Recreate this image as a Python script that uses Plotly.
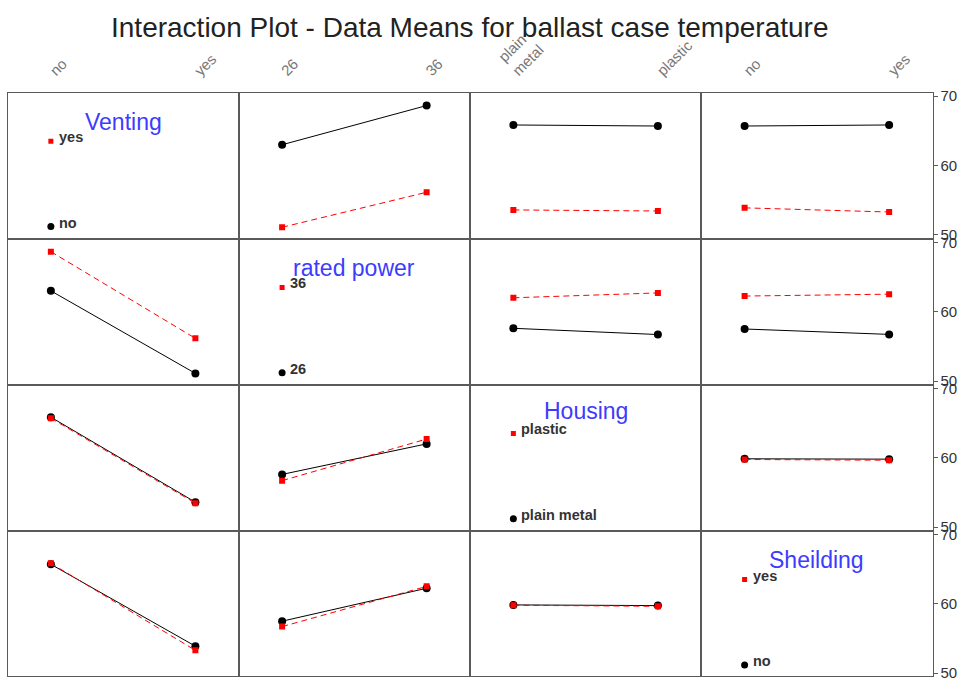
import plotly.graph_objects as go

# ---------------- data ----------------
FACTORS = ["Venting", "rated power", "Housing", "Sheilding"]
LEVELS = [["no", "yes"], ["26", "36"], ["plain metal", "plastic"], ["no", "yes"]]
TICK_TEXT = [["no", "yes"], ["26", "36"], ["plain<br>metal", "plastic"], ["no", "yes"]]
Y_TICKS = [50, 60, 70]

# cell means: rows = levels of first factor, cols = levels of second factor
MEANS_VENT_POWER = [[63.0, 68.65], [51.1, 56.15]]
MEANS_VENT_HOUSING = [[65.85, 65.7], [53.6, 53.45]]
MEANS_VENT_SHIELD = [[65.7, 65.85], [53.9, 53.3]]
MEANS_POWER_HOUSING = [[57.6, 56.7], [62.0, 62.7]]
MEANS_POWER_SHIELD = [[57.5, 56.72], [62.25, 62.52]]
MEANS_HOUSING_SHIELD = [[59.85, 59.8], [59.75, 59.65]]

# legend key heights (y value) in the diagonal panels: [low level, high level]
LEGEND_Y = [51.2, 63.5]
TITLE_POS = [0.195, 0.195, 0.175, 0.195]

PAIRS = {
    (0, 1): MEANS_VENT_POWER,
    (0, 2): MEANS_VENT_HOUSING,
    (0, 3): MEANS_VENT_SHIELD,
    (1, 2): MEANS_POWER_HOUSING,
    (1, 3): MEANS_POWER_SHIELD,
    (2, 3): MEANS_HOUSING_SHIELD,
}


def table(i, j):
    if (i, j) in PAIRS:
        return PAIRS[(i, j)]
    t = PAIRS[(j, i)]
    return [[t[0][0], t[1][0]], [t[0][1], t[1][1]]]


# ---------------- geometry ----------------
W, H = 961, 681
LEFT, RIGHT = 7.5, 932.5
TOP, ROWH = 88.5, 148.5
PX_PER_UNIT = 7.05
Y_TOP = 70.45
N = 4
colw = (RIGHT - LEFT) / N

FONT = "Arial, Liberation Sans, sans-serif"
LINE_COL = "#5a5a5a"
STYLE = [
    dict(color="black", symbol="circle", size=8, dash="solid"),
    dict(color="#ff0000", symbol="square", size=6, dash="6px,4px"),
]

fig = go.Figure()
layout = dict(
    width=W, height=H, margin=dict(l=0, r=0, t=0, b=0),
    paper_bgcolor="white", plot_bgcolor="white", showlegend=False,
    font=dict(family=FONT, color="#333"),
)
annotations = []

for r in range(N):
    for c in range(N):
        n = r * N + c + 1
        xa = "x" if n == 1 else f"x{n}"
        ya = "y" if n == 1 else f"y{n}"
        xkey = "xaxis" if n == 1 else f"xaxis{n}"
        ykey = "yaxis" if n == 1 else f"yaxis{n}"
        x0 = (LEFT + c * colw) / W
        x1 = (LEFT + (c + 1) * colw) / W
        top_px = TOP + r * ROWH
        bot_px = min(top_px + ROWH, H)
        y1 = 1 - top_px / H
        y0 = 1 - bot_px / H
        yr = [Y_TOP - (bot_px - top_px) / PX_PER_UNIT, Y_TOP]

        layout[xkey] = dict(
            domain=[x0, x1], range=[0.7, 2.3], anchor=ya,
            showgrid=False, zeroline=False, showline=True, mirror=True,
            linecolor=LINE_COL, linewidth=1, fixedrange=True,
            tickvals=[1, 2], ticktext=TICK_TEXT[c], ticks="",
            showticklabels=(r == 0), side="top", tickangle=-45,
            ticklabelstandoff=7,
            tickfont=dict(size=15, color="#777", family=FONT),
        )
        layout[ykey] = dict(
            domain=[y0, y1], range=yr, anchor=xa,
            showgrid=False, zeroline=False, showline=True, mirror=True,
            linecolor=LINE_COL, linewidth=1, fixedrange=True,
            tickvals=Y_TICKS, ticks="outside" if c == N - 1 else "",
            ticklen=4, tickcolor=LINE_COL, ticklabeloverflow="allow",
            showticklabels=(c == N - 1), side="right",
            tickfont=dict(size=15, color="#333", family=FONT),
        )

        if r == c:
            # legend key panel
            for lvl in (0, 1):
                s = STYLE[lvl]
                fig.add_trace(go.Scatter(
                    x=[1], y=[LEGEND_Y[lvl]], xaxis=xa, yaxis=ya, mode="markers",
                    marker=dict(color=s["color"], symbol=s["symbol"],
                                size=s["size"] - 1),
                    hoverinfo="skip"))
                annotations.append(dict(
                    x=1, y=LEGEND_Y[lvl], xref=xa, yref=ya,
                    text="<b>" + LEVELS[r][lvl] + "</b>",
                    showarrow=False, xanchor="left", yanchor="middle",
                    xshift=6, yshift=4, font=dict(size=14.5, color="#333", family=FONT)))
            annotations.append(dict(
                x=0.5, y=1 - TITLE_POS[r], xref=f"{xa} domain", yref=f"{ya} domain",
                text=FACTORS[r], showarrow=False, xanchor="center", yanchor="middle",
                font=dict(size=23, color="#3c3cff", family=FONT)))
        else:
            t = table(r, c)
            for lvl in (0, 1):
                s = STYLE[lvl]
                fig.add_trace(go.Scatter(
                    x=[1, 2], y=t[lvl], xaxis=xa, yaxis=ya, mode="lines+markers",
                    line=dict(color=s["color"], width=1, dash=s["dash"]),
                    marker=dict(color=s["color"], symbol=s["symbol"], size=s["size"]),
                    name=LEVELS[r][lvl], hoverinfo="skip"))

annotations.append(dict(
    x=469.5 / W, y=1 - 22 / H, xref="paper", yref="paper",
    text="Interaction Plot - Data Means for ballast case temperature",
    showarrow=False, xanchor="center", yanchor="middle",
    font=dict(size=28, color="#222", family=FONT)))

layout["annotations"] = annotations
fig.update_layout(**layout)
fig.write_html("out.html")
